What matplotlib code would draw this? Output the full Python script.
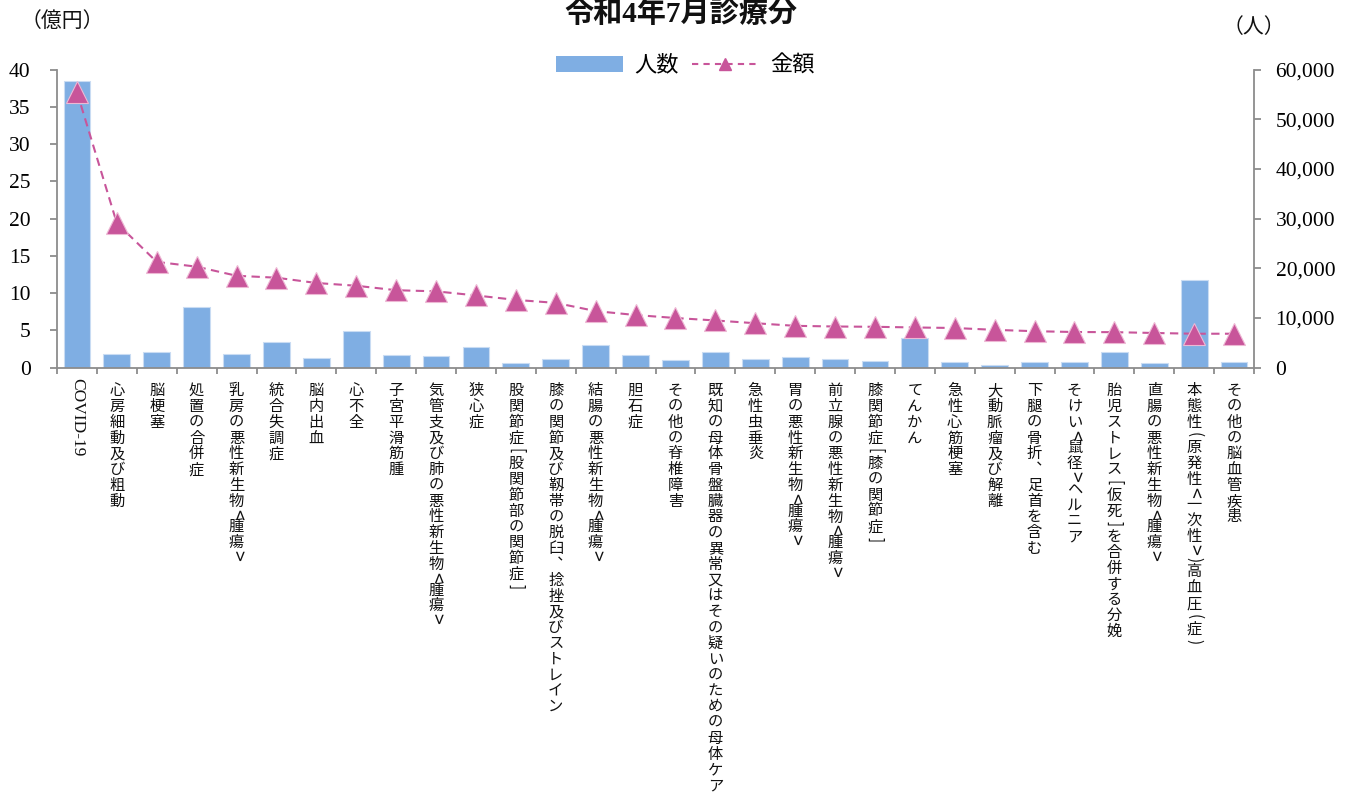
import matplotlib
matplotlib.use("Agg")
import matplotlib.pyplot as plt
from matplotlib.lines import Line2D
from matplotlib.patches import Rectangle
from matplotlib.ticker import FuncFormatter, FixedLocator
import numpy as np

plt.rcParams['font.family'] = ['Liberation Serif', 'Noto Sans CJK JP', 'DejaVu Sans']

categories = [
    "COVID-19", "心房細動及び粗動", "脳梗塞", "処置の合併症", "乳房の悪性新生物＜腫瘍＞",
    "統合失調症", "脳内出血", "心不全", "子宮平滑筋腫", "気管支及び肺の悪性新生物＜腫瘍＞",
    "狭心症", "股関節症［股関節部の関節症］", "膝の関節及び靱帯の脱臼、捻挫及びストレイン",
    "結腸の悪性新生物＜腫瘍＞", "胆石症", "その他の脊椎障害",
    "既知の母体骨盤臓器の異常又はその疑いのための母体ケア", "急性虫垂炎",
    "胃の悪性新生物＜腫瘍＞", "前立腺の悪性新生物＜腫瘍＞", "膝関節症［膝の関節症］",
    "てんかん", "急性心筋梗塞", "大動脈瘤及び解離", "下腿の骨折、足首を含む",
    "そけい＜鼠径＞ヘルニア", "胎児ストレス［仮死］を合併する分娩",
    "直腸の悪性新生物＜腫瘍＞", "本態性（原発性＜一次性＞）高血圧（症）", "その他の脳血管疾患",
]
patients = [57700, 2760, 3160, 12280, 2760, 5170, 2000, 7400, 2560, 2350,
            4100, 890, 1700, 4630, 2500, 1490, 3220, 1690, 2090, 1690,
            1290, 6040, 1150, 480, 1210, 1210, 3160, 890, 17660, 1090]
amount = [37.0, 19.4, 14.2, 13.56, 12.34, 12.08, 11.37, 11.0, 10.4, 10.25,
          9.7, 9.1, 8.7, 7.6, 7.07, 6.67, 6.34, 5.97, 5.62, 5.53,
          5.49, 5.4, 5.33, 5.08, 4.9, 4.79, 4.77, 4.66, 4.56, 4.56]

title = "令和4年7月診療分"
left_unit = "（億円）"
right_unit = "（人）"
legend_bar = "人数"
legend_line = "金額"

BAR_C = '#7FAEE3'
LINE_C = '#C8559A'
SPINE_C = '#8C8C8C'

fig = plt.figure(figsize=(13.57, 7.98), dpi=100)
ax = fig.add_axes([57/1357, 1-367.7/798, (1254-57)/1357, (367.7-69.7)/798])
ax2 = ax.twinx()

x = np.arange(len(categories))
ax2.bar(x, patients, width=0.67, color=BAR_C, edgecolor='#C9DCF3', linewidth=0.8, zorder=2)
ax.plot(x, amount, color=LINE_C, linestyle=(0, (4, 2.6)), linewidth=1.5,
        marker='^', markersize=16.5, markerfacecolor=LINE_C,
        markeredgecolor='#EDB8D4', markeredgewidth=0.8, zorder=3)

ax.set_zorder(ax2.get_zorder() + 1)
ax.patch.set_visible(False)

ax.set_xlim(-0.5, len(categories) - 0.5)
ax.set_ylim(0, 40)
ax2.set_ylim(0, 60000)
ax.set_yticks(np.arange(0, 41, 5))
ax2.set_yticks(np.arange(0, 60001, 10000))
ax2.yaxis.set_major_formatter(FuncFormatter(lambda v, p: f"{int(v):,}"))

for a in (ax, ax2):
    a.spines['top'].set_visible(False)
    for s in ('left', 'right', 'bottom'):
        a.spines[s].set_color(SPINE_C)
        a.spines[s].set_linewidth(1.3)
ax2.spines['left'].set_visible(False)
ax2.spines['bottom'].set_visible(False)
ax.spines['right'].set_visible(False)

ax.tick_params(axis='y', direction='out', length=5, width=1.3, color=SPINE_C,
               labelsize=15.5, pad=14)
ax2.tick_params(axis='y', direction='out', length=5, width=1.3, color=SPINE_C,
                labelsize=15.5, pad=10.5)
ax.xaxis.set_major_locator(FixedLocator(np.arange(-0.5, len(categories), 1.0)))
ax.tick_params(axis='x', direction='out', length=4, width=1.3, color=SPINE_C,
               labelbottom=False)
ax2.tick_params(axis='x', length=0)

# vertical (tategaki) category labels
BR = {'＜': '<', '＞': '>', '［': '[', '］': ']', '（': '(', '）': ')'}
P = 15.8
cjk_family = ['Noto Sans CJK JP', 'DejaVu Sans']
trans = ax.get_xaxis_transform()
for i, lab in enumerate(categories):
    if all(ord(c) < 128 for c in lab):
        ax.annotate(lab, xy=(i, 0), xycoords=trans, xytext=(0, -10),
                    textcoords='offset pixels', rotation=-90, ha='center', va='top',
                    fontsize=12.5, family='Liberation Serif', color='#111111')
        continue
    y = 15.0
    for ch in lab:
        fs = 11
        if ch in BR:
            h = 0.62 * P
            rot = -90
            c = BR[ch]
            if ch in '＜＞':
                fs = 14
        else:
            h = P
            rot = 0
            c = '︑' if ch == '、' else ch
        ax.annotate(c, xy=(i, 0), xycoords=trans, xytext=(0, -(y + h / 2)),
                    textcoords='offset pixels', rotation=rot, ha='center', va='center',
                    fontsize=fs, family=cjk_family, color='#111111')
        y += h

# title and unit labels
fig.text(0.502, 1-14/798, title, ha='center', va='center', fontsize=21,
         fontweight='bold', color='#111111')
fig.text(62/1357, 1-21/798, left_unit, ha='center', va='center', fontsize=15,
         family=cjk_family, color='#111111')
fig.text(1254/1357, 1-27/798, right_unit, ha='center', va='center', fontsize=15,
         family=cjk_family, color='#111111')

# legend
h_bar = Rectangle((0, 0), 1, 1, facecolor=BAR_C, edgecolor='none')
h_line = Line2D([], [], color=LINE_C, linestyle=(0, (3, 2.5)), linewidth=1.5,
                marker='^', markersize=9, markerfacecolor=LINE_C, markeredgecolor=LINE_C)
fig.legend([h_bar, h_line], [legend_bar, legend_line], loc='center',
           bbox_to_anchor=(0.505, 1-65/798), ncol=2, frameon=False,
           prop={'family': cjk_family, 'size': 16}, handlelength=3.0,
           handleheight=0.7, handletextpad=0.5, columnspacing=0.6)

fig.savefig('out.png', dpi=100)
